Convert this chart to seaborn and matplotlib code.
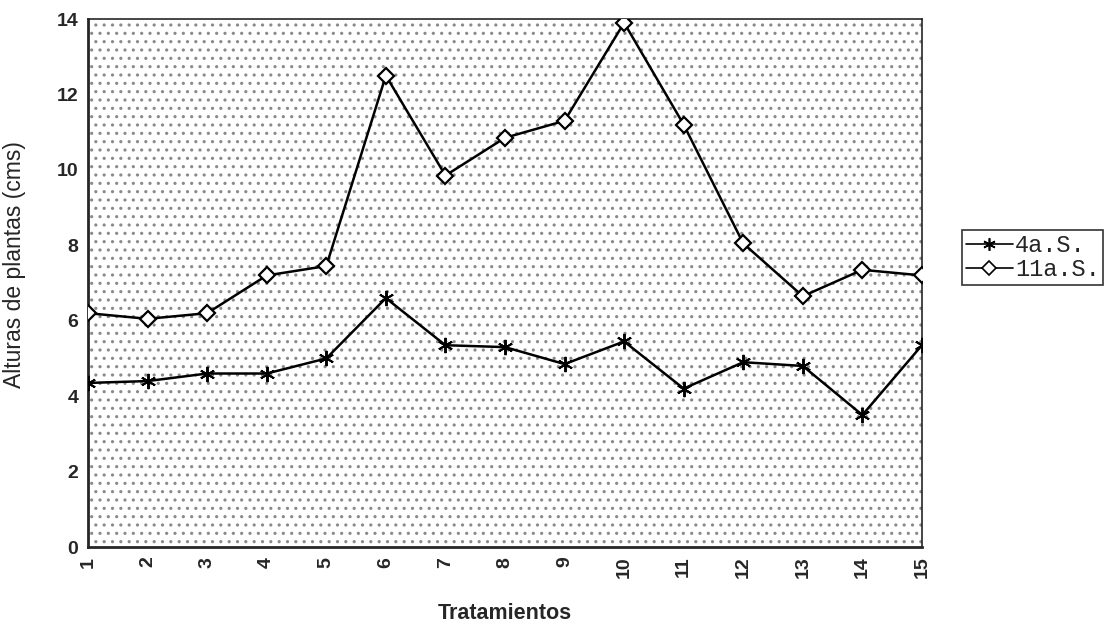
import seaborn as sns
import matplotlib.pyplot as plt
from matplotlib.patches import Rectangle
from matplotlib.lines import Line2D
import pandas as pd

# Treatments and plant heights (cm)
tratamientos = list(range(1, 16))
altura_4a = [4.35, 4.4, 4.6, 4.6, 5.0, 6.6, 5.35, 5.3, 4.85, 5.45, 4.2, 4.9, 4.8, 3.5, 5.35]
altura_11a = [6.2, 6.05, 6.2, 7.2, 7.45, 12.5, 9.85, 10.85, 11.3, 13.9, 11.2, 8.05, 6.65, 7.35, 7.2]
series = ['4a.S.', '11a.S.']

df4 = pd.DataFrame({'Tratamientos': tratamientos, 'Altura': altura_4a})
df11 = pd.DataFrame({'Tratamientos': tratamientos, 'Altura': altura_11a})

sns.set_style('white')
plt.rcParams['font.family'] = ['Liberation Sans', 'DejaVu Sans']
plt.rcParams['hatch.linewidth'] = 1.1
plt.rcParams['hatch.color'] = '#8a8a8a'

fig = plt.figure(figsize=(11.16, 6.25), dpi=100)
ax = fig.add_axes([0.0789, 0.1248, 0.7472, 0.8448])

# stippled plot background
ax.add_patch(Rectangle((0, 0), 1, 1, transform=ax.transAxes, facecolor='white',
                       hatch='..', edgecolor='#8a8a8a', lw=0, zorder=0))

sns.lineplot(data=df4, x='Tratamientos', y='Altura', marker=(6, 2, 0),
             color='black', linewidth=1.8, markersize=11,
             markeredgecolor='black', markeredgewidth=1.4, ax=ax, zorder=3)
sns.lineplot(data=df11, x='Tratamientos', y='Altura', marker='D',
             color='black', linewidth=1.8, markersize=8,
             markerfacecolor='white', markeredgecolor='black', markeredgewidth=1.6,
             ax=ax, zorder=3)

ax.set_xlim(1, 15)
ax.set_ylim(0, 14)
ax.set_xticks(tratamientos)
ax.set_xticklabels([str(t) for t in tratamientos], rotation=90)
ax.set_yticks(range(0, 15, 2))
ax.tick_params(axis='both', direction='inout', length=7, width=1.2, labelsize=14, color='black')
for lab in ax.get_xticklabels() + ax.get_yticklabels():
    lab.set_fontweight('bold')
for side in ['left', 'bottom']:
    ax.spines[side].set_linewidth(2)
for side in ['top', 'right']:
    ax.spines[side].set_linewidth(1.2)

ax.set_xlabel('Tratamientos', fontsize=15.5, fontweight='bold', labelpad=18)
ax.set_ylabel('Alturas de plantas (cms)', fontsize=16.5)
ax.yaxis.set_label_coords(-0.074, 0.535)

# legend in courier font outside the plot
handles = [
    Line2D([], [], color='black', lw=1.2, marker=(6, 2, 0), markersize=9,
           markeredgecolor='black', markeredgewidth=1.2),
    Line2D([], [], color='black', lw=1.2, marker='D', markersize=7,
           markerfacecolor='white', markeredgecolor='black', markeredgewidth=1.2),
]
leg = fig.legend(handles, series, loc='center left', bbox_to_anchor=(0.862, 0.588),
                 prop={'family': 'Liberation Mono', 'size': 17}, frameon=True,
                 fancybox=False, edgecolor='black', handlelength=2.0, handletextpad=0.1,
                 borderpad=0.15, labelspacing=0.05, borderaxespad=0)
leg.get_frame().set_linewidth(1.2)

fig.savefig('out.png', dpi=100)
